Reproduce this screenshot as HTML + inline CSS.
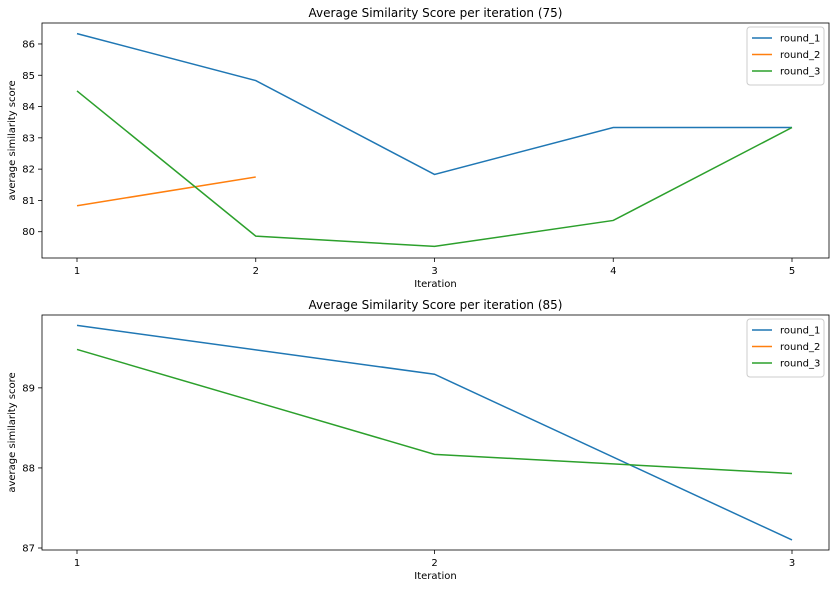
<!DOCTYPE html>
<html><head><meta charset="utf-8"><style>
body{margin:0;background:#fff;font-family:"Liberation Sans","DejaVu Sans",sans-serif}
svg text{font-family:"DejaVu Sans","Liberation Sans",sans-serif}
</style></head><body>
<svg id="c" width="835" height="588" xmlns="http://www.w3.org/2000/svg"></svg>
<script>
const seriesNames=["round_1","round_2","round_3"];
const colors=["#1f77b4","#ff7f0e","#2ca02c"];
const topIters=[1,2,3,4,5];
const topR1=[86.33,84.83,81.83,83.33,83.33];
const topR2=[80.83,81.75];
const topR3=[84.5,79.86,79.53,80.36,83.33];
const topYTicks=[80,81,82,83,84,85,86];
const botIters=[1,2,3];
const botR1=[89.78,89.17,87.1];
const botR2=[];
const botR3=[89.48,88.17,87.93];
const botYTicks=[87,88,89];

const svg=document.getElementById('c');
const NS="http://www.w3.org/2000/svg";
function el(t,a,p){const e=document.createElementNS(NS,t);for(const k in a)e.setAttribute(k,a[k]);(p||svg).appendChild(e);return e;}
function panel(o){
  const g=el('g',{});
  
  
  const L=42,R=829,T=o.top,B=o.top+235;
  const xs=v=>77+(v-o.xmin)*(792-77)/(o.xmax-o.xmin);
  const ys=v=>T+(o.ymax-v)*(B-T)/(o.ymax-o.ymin);
  const t=el('text',{x:(L+R)/2,y:T-6,'text-anchor':'middle','font-size':12},g);t.textContent=o.title;
  
  o.xt.forEach(v=>{const x=xs(v);el('line',{x1:x,x2:x,y1:B,y2:B+4,stroke:'#000','stroke-width':0.8},g);
    const tx=el('text',{x:x,y:B+16,'text-anchor':'middle','font-size':10},g);tx.textContent=v;
    });
  o.yt.forEach(v=>{const y=ys(v);el('line',{x1:L,x2:L-4,y1:y,y2:y,stroke:'#000','stroke-width':0.8},g);
    const ty=el('text',{x:L-7,y:y+3.5,'text-anchor':'end','font-size':10},g);ty.textContent=v;
    });
  const xl=el('text',{x:(L+R)/2,y:B+29,'text-anchor':'middle','font-size':10},g);xl.textContent='Iteration';
  
  const yl=el('text',{x:0,y:0,'text-anchor':'middle','font-size':10,transform:`translate(15,${(T+B)/2}) rotate(-90)`},g);yl.textContent='average similarity score';
  
  o.series.forEach((s,i)=>{if(s.length<2)return;
    const p=el('polyline',{points:s.map((v,j)=>xs(o.x[j])+','+ys(v)).join(' '),fill:'none',stroke:colors[i],'stroke-width':1.5},g);
    });
  el('rect',{x:L,y:T,width:R-L,height:B-T,fill:'none',stroke:'#000','stroke-width':0.8},g);
  const lg=el('g',{},g);
  el('rect',{x:747,y:T+4,width:77,height:58,rx:3,fill:'#fff',stroke:'#ccc'},lg);
  seriesNames.forEach((n,i)=>{const y=T+15+i*16.5;
    el('line',{x1:752,x2:772,y1:y,y2:y,stroke:colors[i],'stroke-width':1.5},lg);
    const lt=el('text',{x:780,y:y+3.5,'font-size':10},lg);lt.textContent=n;
    });
}
panel({name:'top-panel',top:23,title:'Average Similarity Score per iteration (75)',x:topIters,xt:topIters,xmin:1,xmax:5,ymin:79.16,ymax:86.67,yt:topYTicks,series:[topR1,topR2,topR3]});
panel({name:'bottom-panel',top:315,title:'Average Similarity Score per iteration (85)',x:botIters,xt:botIters,xmin:1,xmax:3,ymin:86.975,ymax:89.91,yt:botYTicks,series:[botR1,botR2,botR3]});
</script>
</body></html>
